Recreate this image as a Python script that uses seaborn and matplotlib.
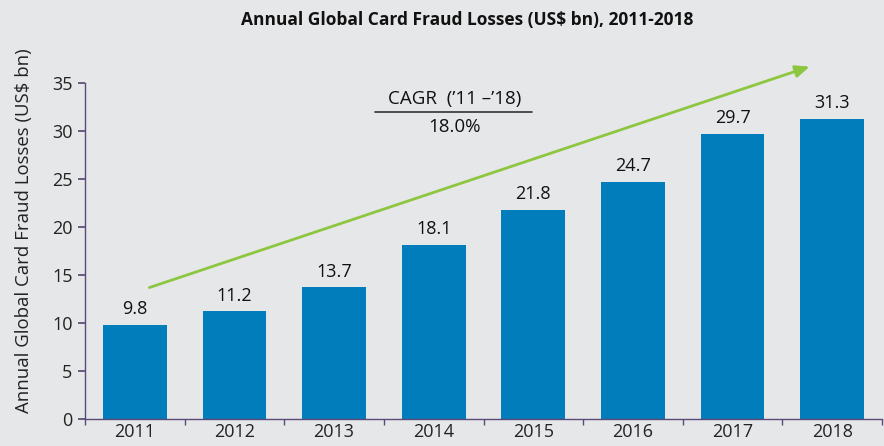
import matplotlib
matplotlib.use("Agg")
import matplotlib.pyplot as plt
import seaborn as sns
import pandas as pd
import numpy as np

years = ["2011", "2012", "2013", "2014", "2015", "2016", "2017", "2018"]
losses = [9.8, 11.2, 13.7, 18.1, 21.8, 24.7, 29.7, 31.3]
title = "Annual Global Card Fraud Losses (US$ bn), 2011-2018"
ylabel = "Annual Global Card Fraud Losses (US$ bn)"
cagr_label = "CAGR  (\u201911 \u2013\u201918)"
cagr_value = "18.0%"

BG = "#E6E7E9"
BAR = "#007DBA"
SPINE = "#5B4A78"
GREEN = "#8DC63F"

sns.set_theme(style="white")
plt.rcParams['font.family'] = ['Open Sans', 'DejaVu Sans']

df = pd.DataFrame({"year": years, "loss": losses})

fig = plt.figure(figsize=(8.84, 4.46), dpi=100, facecolor=BG)
ax = fig.add_axes([85/884, 1-419/446, (882-85)/884, (419-83)/446])
ax.set_facecolor(BG)

sns.barplot(data=df, x="year", y="loss", color=BAR, width=0.64, saturation=1,
            linewidth=0, edgecolor=BAR, ax=ax)

ax.set_xlim(-0.5, len(years) - 0.5)
ax.set_ylim(0, 35)
ax.set_yticks(np.arange(0, 36, 5))
ax.set_xlabel("")
ax.set_ylabel(ylabel, fontsize=13.4, color="#222222")
ax.yaxis.set_label_coords(-(85-33)/797, (419-231)/336)

for s in ["top", "right"]:
    ax.spines[s].set_visible(False)
for s in ["left", "bottom"]:
    ax.spines[s].set_color(SPINE)
    ax.spines[s].set_linewidth(1.0)

ax.tick_params(axis="y", which="major", left=True, length=5, color=SPINE, labelsize=13, labelcolor="#222222", pad=4)
ax.tick_params(axis="x", which="major", bottom=False, length=0, labelsize=13, labelcolor="#222222", pad=3)
ax.set_xticks(np.arange(-0.5, len(years)), minor=True)
ax.tick_params(axis="x", which="minor", bottom=True, length=4, color=SPINE, width=1)

for i, v in enumerate(losses):
    ax.text(i, v + 1.65, f"{v:.1f}", ha="center", va="center", fontsize=13, color="#111111")

# CAGR arrow
ax.annotate("", xy=(6.8, 36.8), xytext=(0.12, 13.6), xycoords="data",
            annotation_clip=False,
            arrowprops=dict(arrowstyle="-|>,head_length=0.7,head_width=0.3", color=GREEN, lw=2))

# CAGR text
ax.text(3.21, 33.3, cagr_label, ha="center", va="center", fontsize=13.5, color="#111111")
ax.plot([2.41, 3.99], [32.0, 32.0], color="#333333", lw=1.2)
ax.text(3.21, 30.4, cagr_value, ha="center", va="center", fontsize=13.5, color="#111111")

fig.text(467/884, 1 - 20/446, title, ha="center", va="center", fontsize=12.5, fontweight="bold", color="#111111")

fig.savefig("out.png", dpi=100, facecolor=BG)
